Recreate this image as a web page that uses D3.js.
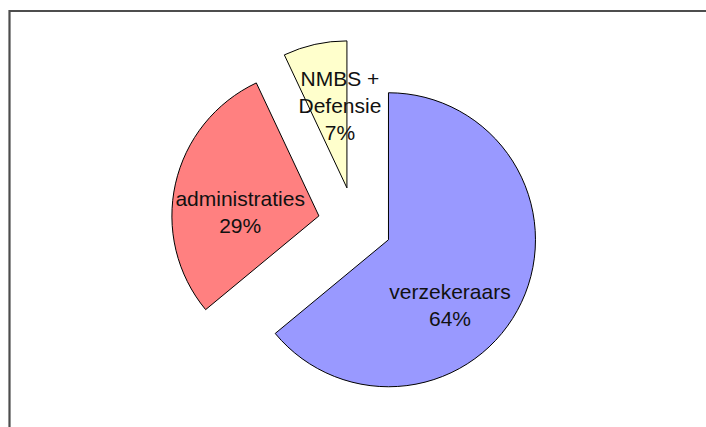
<!DOCTYPE html>
<html>
<head>
<meta charset="utf-8">
<script src="https://cdn.jsdelivr.net/npm/d3@7"></script>
<style>
  html, body { margin: 0; padding: 0; background: #fff; }
  svg { display: block; }
</style>
</head>
<body>
<svg id="chart" width="706" height="427"></svg>
<script>
// ---- data ----
const categories = ["verzekeraars", "administraties", "NMBS + Defensie"];
const labelLines = [["verzekeraars", "64%"], ["administraties", "29%"], ["NMBS +", "Defensie", "7%"]];
const values = [64, 29, 7];
const colors = ["#9999FF", "#FF8080", "#FFFFCC"];

// ---- drawing ----
const svg = d3.select("#chart");
const W = 706, H = 427;

// frame (only top and left edges visible)
svg.append("path")
  .attr("d", `M9.5,${H} L9.5,11 L${W},11`)
  .attr("fill", "none")
  .attr("stroke", "#4d4d4d")
  .attr("stroke-width", 2.2);

const cx = 355, cy = 224, r = 147, explode = 37;

const pie = d3.pie().sort(null).value(d => d).startAngle(0).endAngle(2 * Math.PI);
const arcs = pie(values);
const arc = d3.arc().innerRadius(0).outerRadius(r);

const g = svg.append("g").attr("transform", `translate(${cx},${cy})`);

const nudges = [[-5, 41], [-7, 19.5], [9, -3]];
const lineH = 27;

const slices = g.selectAll("g.slice").data(arcs).enter().append("g")
  .attr("class", "slice")
  .attr("transform", d => {
    const m = (d.startAngle + d.endAngle) / 2;
    return `translate(${explode * Math.sin(m)},${-explode * Math.cos(m)})`;
  });

slices.append("path")
  .attr("d", arc)
  .attr("fill", (d, i) => colors[i])
  .attr("stroke", "#000")
  .attr("stroke-width", 1);

slices.each(function(d, i) {
  const c = arc.centroid(d);
  const x = c[0] + nudges[i][0];
  const yMid = c[1] + nudges[i][1];
  const lines = labelLines[i];
  const t = d3.select(this).append("text")
    .attr("text-anchor", "middle")
    .attr("font-family", "Liberation Sans, Arial, sans-serif")
    .attr("font-size", "21px")
    .attr("fill", "#111");
  lines.forEach((ln, k) => {
    t.append("tspan")
      .attr("x", x)
      .attr("y", yMid - (lines.length - 1) * lineH / 2 + k * lineH)
      .text(ln);
  });
});
</script>
</body>
</html>
